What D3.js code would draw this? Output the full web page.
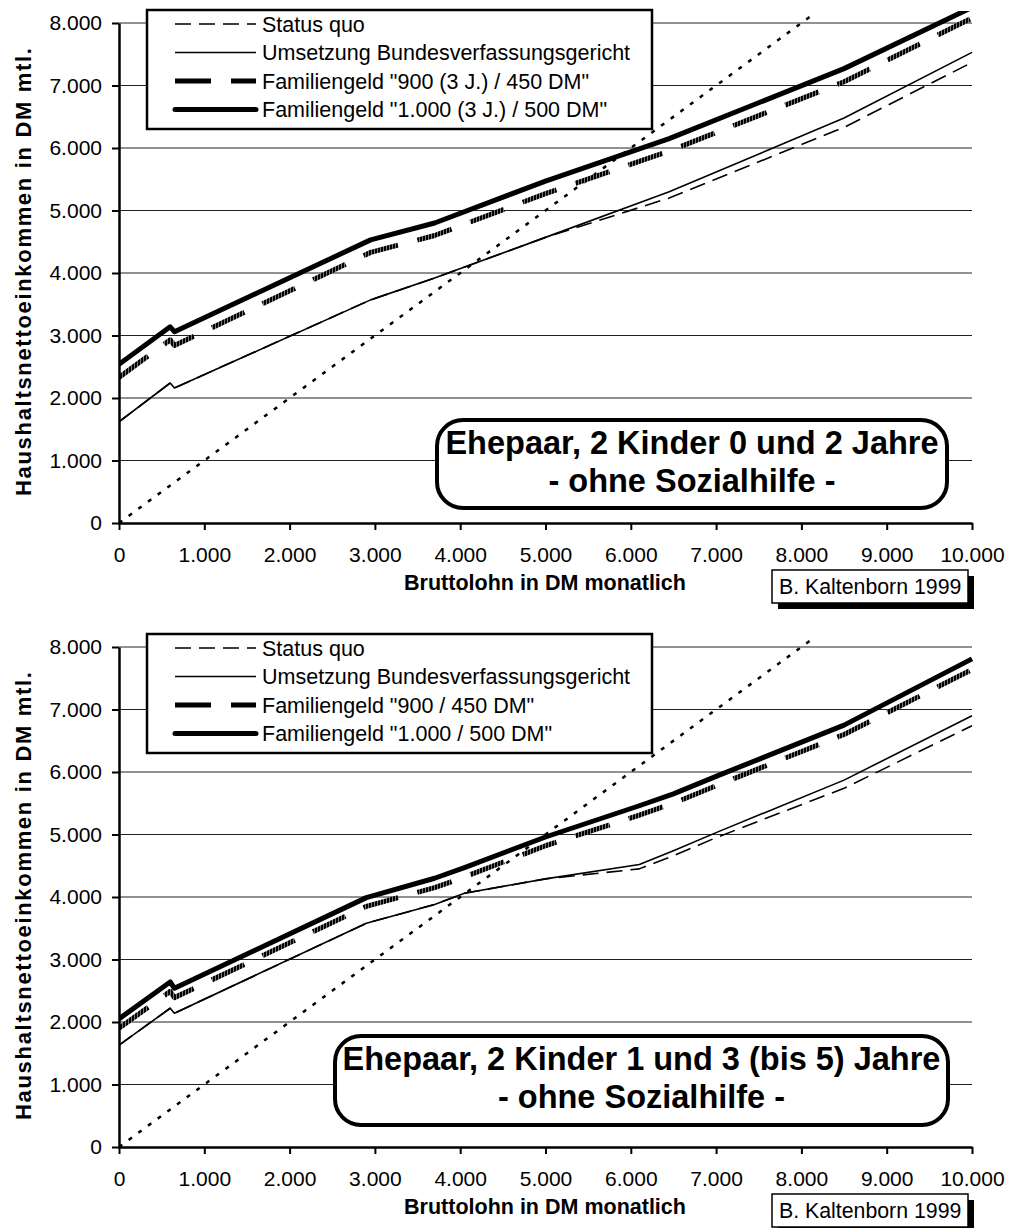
<!DOCTYPE html>
<html>
<head>
<meta charset="utf-8">
<script src="https://cdn.jsdelivr.net/npm/d3@7"></script>
<style>
body { margin: 0; background: #fff; }
svg { display: block; font-family: "Liberation Sans", Arial, sans-serif; }
</style>
</head>
<body>
<div id="chart"></div>
<script>
// Bruttolohn (DM monatlich) -> Haushaltsnettoeinkommen (DM mtl.)
var xTicks = [0, 1000, 2000, 3000, 4000, 5000, 6000, 7000, 8000, 9000, 10000];
var yTicks = [0, 1000, 2000, 3000, 4000, 5000, 6000, 7000, 8000];
var diagonal = [0, 8130];   // brutto = netto

// chart 1: Ehepaar, 2 Kinder 0 und 2 Jahre
var topBrutto     = [0, 600, 650, 2950, 3700, 5000, 6450, 8500, 10000];
var topStatusQuo  = [1620, 2240, 2160, 3570, 3920, 4570, 5200, 6330, 7370];
var topUmsetzung  = [1620, 2240, 2160, 3570, 3920, 4570, 5300, 6480, 7530];
var topFam900     = [2330, 2930, 2840, 4330, 4600, 5270, 5950, 7060, 8080];
var topFam1000    = [2540, 3140, 3060, 4530, 4800, 5470, 6150, 7270, 8250];
var topLabels = ["Status quo", "Umsetzung Bundesverfassungsgericht",
  'Familiengeld "900 (3 J.) / 450 DM"', 'Familiengeld "1.000 (3 J.) / 500 DM"'];
var topTitle = ["Ehepaar, 2 Kinder 0 und 2 Jahre", "- ohne Sozialhilfe -"];

// chart 2: Ehepaar, 2 Kinder 1 und 3 (bis 5) Jahre
var botBrutto     = [0, 600, 650, 2900, 3700, 4050, 5000, 6100, 6500, 7000, 8500, 10000];
var botStatusQuo  = [1630, 2220, 2140, 3580, 3880, 4060, 4290, 4450, 4660, 4950, 5740, 6740];
var botUmsetzung  = [1630, 2220, 2140, 3580, 3880, 4060, 4290, 4520, 4740, 5030, 5870, 6900];
var botFam900     = [1900, 2490, 2390, 3850, 4150, 4320, 4820, 5310, 5500, 5780, 6600, 7640];
var botFam1000    = [2050, 2640, 2540, 3990, 4300, 4470, 4960, 5460, 5650, 5930, 6750, 7810];
var botLabels = ["Status quo", "Umsetzung Bundesverfassungsgericht",
  'Familiengeld "900 / 450 DM"', 'Familiengeld "1.000 / 500 DM"'];
var botTitle = ["Ehepaar, 2 Kinder 1 und 3 (bis 5) Jahre", "- ohne Sozialhilfe -"];

var source = "B. Kaltenborn 1999";

// line looks: status quo, BVerfG, 900, 1000
var styles = [
  {w: 1.6, dash: "16,8", stroke: "#000"},
  {w: 1.6, dash: null, stroke: "#000"},
  {w: 5, dash: "36,20", stroke: "url(#hatch)"},
  {w: 5, dash: null, stroke: "#000"}
];

var width = 1010, height = 1228;
var de = d3.formatLocale({decimal: ",", thousands: ".", grouping: [3], currency: ["", " DM"]});
var fmt = de.format(",.0f");

var svg = d3.select("#chart").append("svg")
    .attr("width", width)
    .attr("height", height);

var defs = svg.append("defs");
var hatch = defs.append("pattern")
    .attr("id", "hatch")
    .attr("patternUnits", "userSpaceOnUse")
    .attr("width", 3).attr("height", 3);
hatch.append("rect").attr("width", 3).attr("height", 3).attr("fill", "#000");
hatch.append("rect").attr("x", 2).attr("width", 1).attr("height", 3).attr("fill", "#777");

var x = d3.scaleLinear().domain([0, 10000]).range([119, 972]);

function drawPanel(top, brutto, series, labels, title, box) {
  var y = d3.scaleLinear().domain([0, 8000]).range([top + 500, top]);
  var line = d3.line().x(function(d) { return x(d[0]); }).y(function(d) { return y(d[1]); });
  var g = svg.append("g");

  // gridlines
  g.selectAll("line.grid")
      .data(yTicks.slice(1))
    .enter().append("line")
      .attr("class", "grid")
      .attr("x1", x(0)).attr("x2", x(10000))
      .attr("y1", y).attr("y2", y)
      .attr("stroke", "#222")
      .attr("stroke-width", 1);

  var cid = "clip" + top;
  defs.append("clipPath").attr("id", cid)
    .append("rect")
      .attr("x", x(0)).attr("y", top - 12)
      .attr("width", x(10000) - x(0) + 4)
      .attr("height", 512);

  var lines = g.append("g").attr("clip-path", "url(#" + cid + ")");

  lines.append("path")
      .datum(d3.zip(diagonal, diagonal))
      .attr("d", line)
      .attr("fill", "none")
      .attr("stroke", "#000")
      .attr("stroke-width", 2.5)
      .attr("stroke-dasharray", "4,8");

  series.forEach(function(vals, i) {
    var s = styles[i];
    lines.append("path")
        .datum(d3.zip(brutto, vals))
        .attr("d", line)
        .attr("fill", "none")
        .attr("stroke", s.stroke)
        .attr("stroke-width", s.w)
        .attr("stroke-linejoin", "round")
        .attr("stroke-dasharray", s.dash);
  });

  // axes
  var xAxis = g.append("g")
      .attr("transform", "translate(0," + y(0) + ")")
      .call(d3.axisBottom(x).tickValues(xTicks).tickFormat(fmt)
        .tickSize(7).tickPadding(17).tickSizeOuter(0));
  var yAxis = g.append("g")
      .attr("transform", "translate(" + x(0) + ",0)")
      .call(d3.axisLeft(y).tickValues(yTicks).tickFormat(fmt)
        .tickSize(7).tickPadding(10).tickSizeOuter(0));
  [xAxis, yAxis].forEach(function(a) {
    a.attr("font-family", null).attr("font-size", 21);
    a.select(".domain").attr("stroke-width", 2.5);
    a.selectAll(".tick line").attr("stroke-width", 2);
    a.selectAll(".tick text").attr("fill", "#000");
  });

  g.append("text")
      .attr("x", 545).attr("y", top + 567)
      .attr("text-anchor", "middle")
      .attr("font-weight", "bold")
      .attr("font-size", 21.5)
      .text("Bruttolohn in DM monatlich");

  g.append("text")
      .attr("transform", "translate(31," + (top + 249) + ") rotate(-90)")
      .attr("text-anchor", "middle")
      .attr("font-weight", "bold")
      .attr("font-size", 22)
      .attr("textLength", 448)
      .attr("lengthAdjust", "spacing")
      .text("Haushaltsnettoeinkommen in DM mtl.");

  // legend
  var leg = g.append("g");
  leg.append("rect")
      .attr("x", 147).attr("y", top - 13)
      .attr("width", 505).attr("height", 119)
      .attr("fill", "#fff").attr("stroke", "#000").attr("stroke-width", 2.5);
  labels.forEach(function(lab, i) {
    var cy = top + 1 + i * 28.5;
    var s = styles[i];
    leg.append("line")
        .attr("x1", 175).attr("x2", 256)
        .attr("y1", cy).attr("y2", cy)
        .attr("stroke", i == 2 ? "#000" : s.stroke)
        .attr("stroke-width", s.w)
        .attr("stroke-linecap", i == 3 ? "round" : "butt")
        .attr("stroke-dasharray", s.dash);
    leg.append("text")
        .attr("x", 262).attr("y", cy + 7.5)
        .attr("font-size", 21.5)
        .text(lab);
  });

  // title box
  var tb = g.append("g");
  tb.append("rect")
      .attr("x", box.x).attr("y", box.y)
      .attr("width", box.w).attr("height", box.h)
      .attr("rx", 26).attr("ry", 26)
      .attr("fill", "#fff").attr("stroke", "#000").attr("stroke-width", 4);
  title.forEach(function(t, i) {
    tb.append("text")
        .attr("x", box.x + box.w / 2)
        .attr("y", box.y + 34 + i * 38)
        .attr("text-anchor", "middle")
        .attr("font-weight", "bold")
        .attr("font-size", 32.5)
        .text(t);
  });

  // source box with shadow
  var sb = g.append("g");
  sb.append("rect")
      .attr("x", 778).attr("y", top + 553)
      .attr("width", 196).attr("height", 33)
      .attr("fill", "#000");
  sb.append("rect")
      .attr("x", 772).attr("y", top + 547)
      .attr("width", 196).attr("height", 33)
      .attr("fill", "#fff").attr("stroke", "#000").attr("stroke-width", 1.5);
  sb.append("text")
      .attr("x", 779).attr("y", top + 571)
      .attr("font-size", 21.3)
      .text(source);
}

drawPanel(23, topBrutto, [topStatusQuo, topUmsetzung, topFam900, topFam1000],
  topLabels, topTitle, {x: 437, y: 420, w: 510, h: 88});
drawPanel(647, botBrutto, [botStatusQuo, botUmsetzung, botFam900, botFam1000],
  botLabels, botTitle, {x: 335, y: 1036, w: 613, h: 89});
</script>
</body>
</html>
